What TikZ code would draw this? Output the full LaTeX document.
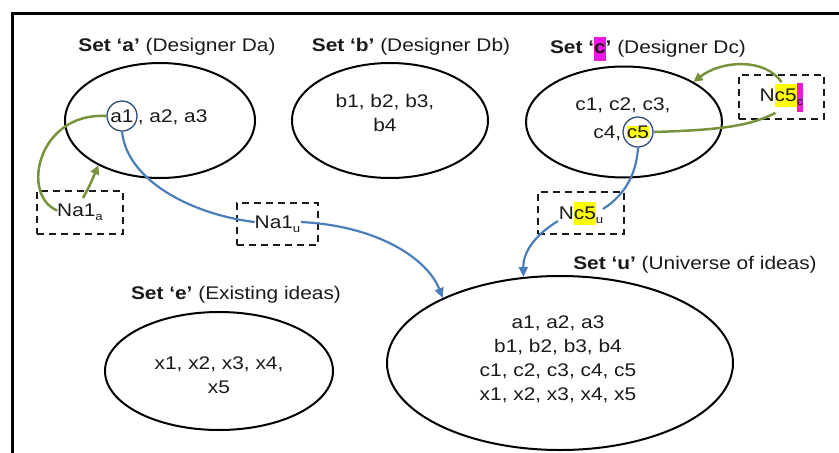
\documentclass[tikz,border=0pt]{standalone}
\usepackage{fontspec}
\setmainfont[FakeStretch=1.14]{Liberation Sans}
\usetikzlibrary{arrows.meta,shapes.geometric}
\definecolor{grn}{HTML}{77933C}
\definecolor{blu}{HTML}{4A7EBB}
\definecolor{dkb}{HTML}{2E4D7B}
\definecolor{txt}{HTML}{1A1A1A}
\definecolor{hlyel}{HTML}{FFFF00}
\definecolor{hlmag}{HTML}{E619E6}
\newcommand{\mysub}[1]{\raisebox{-0.45ex}{\fontsize{11.5}{11.5}\selectfont #1}}
\newcommand{\hlY}[1]{{\setlength{\fboxsep}{0pt}\colorbox{hlyel}{#1}}}
\newcommand{\hlM}[1]{{\setlength{\fboxsep}{0pt}\colorbox{hlmag}{#1}}}
\begin{document}
\begin{tikzpicture}[x=1pt,y=-1pt,
  font=\fontsize{18.3}{24}\selectfont, text=txt,
  setell/.style={draw=black, line width=2pt, ellipse, inner sep=0pt},
  lbl/.style={inner sep=0pt},
  circ/.style={draw=dkb, circle, line width=1.3pt, minimum size=30pt, inner sep=0pt},
  nbox/.style={draw=txt, line width=1.8pt, dash pattern=on 7pt off 5pt, inner sep=0pt},
  garrow/.style={draw=grn, line width=2.5pt},
  barrow/.style={draw=blu, line width=2.2pt},
  gtip/.style={-{Triangle[length=9pt,width=9pt]}},
  btip/.style={-{Triangle[length=10pt,width=9pt]}}]
\useasboundingbox (0,0) rectangle (839,453);
\draw[line width=3pt, line join=miter] (839,13) -- (12,13) -- (12,453);

% set ellipses
\node[setell, minimum width=190pt, minimum height=115pt] (A) at (160,120.5) {};
\node[setell, minimum width=196pt, minimum height=115pt] (B) at (390,120.5) {};
\node[setell, minimum width=196pt, minimum height=111pt] (C) at (624,122) {};
\node[setell, minimum width=228pt, minimum height=118pt] (E) at (219,371) {};
\node[setell, minimum width=346pt, minimum height=174pt] (U) at (560,363) {};

% labels
\node[lbl] (labA) at (177,47) {\textbf{Set ‘a’} (Designer Da)};
\node[lbl] (labB) at (411,47) {\textbf{Set ‘b’} (Designer Db)};
\node[lbl] (labC) at (648,49) {\textbf{Set ‘\hlM{\strut c}’} (Designer Dc)};
\node[lbl] (labE) at (236,295) {\textbf{Set ‘e’} (Existing ideas)};
\node[lbl] (labU) at (695,265) {\textbf{Set ‘u’} (Universe of ideas)};

% contents
\node[circ] (a1) at (122,116) {a1};
\node[lbl, anchor=base west] (a23) at (a1.east |- a1.base) {, a2, a3};
\node[lbl, align=center] (btxt) at (385,113) {b1, b2, b3,\\b4};
\node[lbl] (c13) at (623,105) {c1, c2, c3,};
\node[circ] (c5) at (638,132) {\hlY{c5}};
\node[lbl, anchor=base east] (c4) at ([xshift=-1pt]c5.west |- c5.base) {c4,};
\node[lbl, align=center] (etxt) at (219,375) {x1, x2, x3, x4,\\x5};
\node[lbl, align=center] (utxt) at (558,359) {a1, a2, a3\\b1, b2, b3, b4\\c1, c2, c3, c4, c5\\x1, x2, x3, x4, x5};

% dashed boxes
\node[nbox, minimum width=86pt, minimum height=43pt] (na1a) at (80,212.5) {Na1\mysub{a}};
\node[nbox, minimum width=81pt, minimum height=42pt] (na1u) at (277.5,224) {Na1\mysub{u}};
\node[nbox, minimum width=86pt, minimum height=42pt] (nc5u) at (581,213) {N\hlY{\rule[-5pt]{0pt}{23pt}c5}\mysub{u}};
\node[nbox, minimum width=85pt, minimum height=44pt] (nc5c) at (781.5,97) {N\hlY{\rule[-5pt]{0pt}{23pt}c5}\hlM{\rule[-10pt]{0pt}{29pt}\mysub{c}}};

% connectors
\draw[garrow] (a1.west) .. controls (38,112) and (20,195) .. ([yshift=6pt]na1a.text);
\draw[garrow, gtip] ([xshift=3pt,yshift=-8pt]na1a.north) .. controls (90,185) .. (A.216);
\draw[barrow] (a1.south) .. controls (127,180) and (190,214) .. ([yshift=6pt]na1u.text);
\draw[barrow, btip] ([xshift=-18pt,yshift=2pt]na1u.east) .. controls (380,226) and (428,260) .. (U.151.6);
\draw[garrow] (c5.east) .. controls (720,130) and (750,126) .. ([xshift=-6pt,yshift=7pt]nc5c.south);
\draw[garrow, gtip] ([yshift=-8pt]nc5c.north) .. controls (765,58) and (722,60) .. (C.30);
\draw[barrow] (c5.south) .. controls (636,180) and (620,198) .. ([xshift=22pt,yshift=4pt]nc5u.center);
\draw[barrow, btip] ([xshift=-23pt,yshift=-8pt]nc5u.center) .. controls (535,235) and (523,252) .. (U.113.6);
\end{tikzpicture}
\end{document}
